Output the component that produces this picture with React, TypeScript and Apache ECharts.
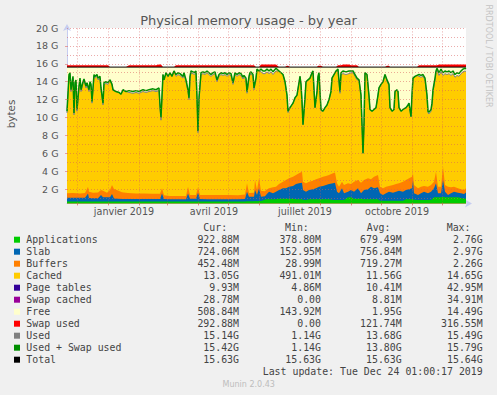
import React, { useEffect, useRef } from "react";
import * as echarts from "echarts";

// ---- time axis (days since 1 Jan 2019) ----
const X_MIN = -41;
const X_MAX = 358;
const monthStartDays = [-31, 0, 31, 59, 90, 120, 151, 181, 212, 243, 273, 304, 334];
const monthLabelDays = [16, 106, 197, 289];
const monthLabelNames = ["janvier 2019", "avril 2019", "juillet 2019", "octobre 2019"];

// ---- y axis (G) ----
const Y_MIN = 0.4;
const Y_MAX = 20;
const yLabelValues = [2, 4, 6, 8, 10, 12, 14, 16, 18, 20];
const yGridValues = [1, 2, 3, 4, 5, 6, 7, 8, 9, 10, 11, 12, 13, 14, 15, 16, 17, 18, 19, 20];

// ---- top lines: Used + Swap used, Swap used (G) ----
const lineDays = [
  -41, -39, -38, -37, -35, -34, -33, -32, -31, -29, -28, -27, -25, -24, -22, -21, -19, -18, -17, -16,
  -14, -13, -11, -10, -8, -7, -5, -4, -2, 0, 2, 4, 5, 8, 11, 13, 15, 18, 21, 25,
  28, 31, 35, 38, 41, 45, 48, 51, 52, 53, 55, 56, 58, 60, 62, 64, 66, 68, 70, 72,
  75, 76, 78, 80, 81, 82, 83, 85, 86, 88, 89, 90, 91, 93, 95, 97, 99, 101, 103, 105,
  107, 109, 111, 113, 115, 117, 119, 121, 123, 125, 127, 129, 131, 133, 135, 136, 138, 139, 141, 142,
  143, 145, 146, 148, 149, 151, 153, 155, 157, 159, 161, 163, 165, 168, 171, 173, 175, 177, 179, 180,
  182, 185, 187, 189, 191, 192, 193, 194, 195, 197, 198, 200, 202, 204, 205, 206, 207, 209, 210, 211,
  212, 213, 215, 217, 219, 221, 223, 224, 226, 228, 230, 232, 233, 235, 238, 241, 243, 245, 247, 249,
  251, 253, 254, 255, 256, 257, 259, 261, 262, 264, 266, 268, 270, 271, 273, 275, 277, 279, 281, 282,
  284, 286, 287, 289, 290, 291, 293, 295, 298, 300, 301, 303, 304, 305, 307, 309, 311, 313, 315, 317,
  319, 320, 321, 323, 324, 325, 327, 328, 329, 331, 333, 335, 337, 339, 341, 343, 345, 347, 349, 351,
  353, 355, 357, 358,
];
const usedPlusSwapG = [
  10.7, 14.8, 15.0, 13.1, 14.6, 10.5, 13.9, 14.2, 10.9, 13.5, 14.4, 13.1, 14.0, 14.3, 13.5, 13.9, 13.1, 14.0, 13.7, 11.8,
  14.8, 14.6, 14.8, 14.4, 14.6, 13.3, 11.6, 13.9, 14.0, 13.9, 14.2, 13.7, 13.1, 12.9, 12.8, 12.6, 13.1, 12.9, 13.0, 12.9,
  13.0, 12.9, 13.1, 13.0, 13.1, 13.2, 13.1, 13.3, 11.4, 10.0, 14.8, 14.2, 15.0, 14.6, 15.0, 14.6, 15.2, 14.8, 15.0, 14.9,
  14.6, 15.0, 14.2, 13.1, 12.2, 14.6, 15.2, 15.1, 15.0, 15.2, 12.2, 8.5, 12.2, 15.0, 15.1, 15.0, 15.2, 15.0, 14.8, 15.0,
  15.1, 14.2, 14.8, 15.0, 14.9, 15.0, 14.8, 15.0, 14.9, 13.9, 15.0, 14.8, 15.0, 14.9, 14.5, 14.7, 14.4, 12.9, 14.6, 15.0,
  15.1, 14.8, 13.3, 14.4, 15.4, 15.2, 15.4, 15.2, 15.2, 15.4, 15.2, 15.4, 15.1, 15.5, 15.2, 15.0, 14.8, 14.0, 12.5, 10.7,
  11.1, 11.6, 12.2, 12.5, 13.9, 14.6, 13.7, 11.8, 9.2, 12.2, 14.0, 14.2, 14.4, 15.0, 15.2, 13.1, 11.1, 12.9, 14.6, 15.0,
  12.9, 10.9, 10.7, 11.1, 11.4, 12.0, 12.9, 14.4, 14.8, 15.2, 15.4, 12.9, 15.0, 15.2, 15.1, 15.2, 15.2, 15.2, 14.8, 14.4,
  14.2, 12.5, 9.2, 6.0, 9.2, 15.0, 14.8, 12.4, 10.9, 10.7, 10.9, 11.1, 12.5, 13.3, 13.7, 14.0, 14.8, 14.2, 13.7, 11.1,
  10.7, 10.9, 12.9, 13.1, 12.9, 11.1, 10.7, 10.9, 11.1, 11.4, 11.6, 10.1, 12.5, 14.4, 14.6, 14.7, 14.8, 14.7, 14.8, 14.4,
  12.5, 10.7, 10.6, 10.9, 11.6, 13.1, 14.4, 15.2, 15.5, 15.0, 15.4, 15.0, 15.2, 15.1, 15.2, 15.0, 15.2, 14.8, 15.0, 14.9,
  15.2, 15.4, 15.5, 15.42,
];
const swapUsedG = [
  0.2, 0.2, 0.2, 0.2, 0.2, 0.2, 0.2, 0.2, 0.2, 0.2, 0.2, 0.2, 0.2, 0.2, 0.2, 0.2, 0.2, 0.2, 0.2, 0.2,
  0.2, 0.2, 0.2, 0.2, 0.2, 0.2, 0.2, 0.2, 0.2, 0.2, 0, 0, 0, 0, 0, 0, 0, 0, 0.2, 0.2,
  0.2, 0.2, 0.2, 0.2, 0.2, 0.2, 0.2, 0.3, 0.3, 0.3, 0, 0, 0, 0, 0, 0, 0, 0.2, 0.2, 0.2,
  0.2, 0.2, 0.2, 0.2, 0.2, 0.2, 0.2, 0.2, 0.2, 0.2, 0.2, 0.2, 0.2, 0.2, 0.2, 0.2, 0.2, 0.2, 0.2, 0.2,
  0.2, 0.2, 0.2, 0.2, 0.2, 0.2, 0.2, 0.2, 0.2, 0.2, 0.2, 0.2, 0.2, 0.2, 0.2, 0.2, 0.2, 0.2, 0.2, 0.2,
  0.2, 0.2, 0.2, 0, 0, 0, 0.3, 0.3, 0.3, 0.3, 0.3, 0.3, 0.3, 0.3, 0, 0, 0, 0, 0.15, 0.15,
  0, 0, 0, 0, 0, 0, 0, 0, 0, 0, 0, 0, 0, 0, 0, 0, 0, 0, 0.15, 0.15,
  0.15, 0.15, 0, 0, 0, 0, 0, 0, 0, 0, 0.2, 0.2, 0.2, 0.3, 0.3, 0.3, 0.2, 0.2, 0.2, 0.2,
  0, 0, 0, 0, 0, 0, 0, 0, 0, 0, 0, 0, 0, 0, 0, 0, 0, 0.15, 0.15, 0,
  0, 0, 0, 0, 0, 0, 0, 0, 0, 0, 0, 0, 0, 0, 0, 0, 0.2, 0.2, 0.2, 0.2,
  0.2, 0.2, 0.2, 0.2, 0.2, 0.2, 0.2, 0.2, 0.2, 0.3, 0.3, 0.3, 0.3, 0.3, 0.3, 0.3, 0.3, 0.3, 0.3, 0.3,
  0.3, 0.3, 0.3, 0.29,
];
const TOTAL_G = 15.63;

// ---- bottom bands (G) ----
const bandDays = [
  -41, -35, -28, -23, -21, -20, -19, -15, -10, -7, -5, -1, 2, 4, 6, 10, 14, 20, 28, 36,
  44, 52, 54, 56, 62, 70, 78, 80, 82, 88, 90, 92, 100, 110, 120, 130, 137, 139, 141, 146,
  147, 149, 151, 153, 157, 158, 161, 165, 168, 171, 175, 178, 181, 185, 188, 191, 194, 195, 198, 201,
  205, 208, 211, 215, 218, 221, 225, 227, 229, 231, 234, 236, 240, 243, 246, 250, 253, 256, 260, 263,
  266, 270, 272, 275, 278, 281, 285, 288, 291, 295, 298, 301, 304, 305, 306, 310, 313, 316, 320, 323,
  326, 328, 330, 333, 335, 337, 340, 343, 346, 350, 353, 356, 358,
];
const appsG = [
  0.6, 0.6, 0.61, 0.6, 0.62, 0.62, 0.6, 0.6, 0.6, 0.61, 0.6, 0.6, 0.6, 0.61, 0.6, 0.6, 0.6, 0.6, 0.6, 0.6,
  0.6, 0.6, 0.62, 0.6, 0.6, 0.6, 0.6, 0.61, 0.6, 0.6, 0.62, 0.6, 0.6, 0.6, 0.6, 0.6, 0.62, 0.65, 0.65, 0.65,
  0.66, 0.65, 0.66, 0.68, 0.8, 0.86, 0.86, 0.86, 0.86, 0.93, 0.93, 0.93, 0.93, 0.93, 0.86, 0.86, 0.86, 0.8, 0.78, 0.86,
  0.86, 0.86, 0.86, 0.86, 0.86, 0.86, 0.78, 0.78, 0.78, 0.78, 0.78, 0.78, 1.08, 1.08, 0.93, 0.93, 0.93, 0.86, 0.86, 0.86,
  0.86, 0.86, 0.71, 0.71, 0.71, 0.71, 0.71, 0.71, 0.71, 0.71, 0.86, 0.86, 0.86, 0.86, 0.8, 0.78, 0.78, 0.78, 0.78, 0.78,
  1.08, 1.08, 1.08, 1.08, 1.15, 1.08, 1.08, 1.08, 1.08, 1.08, 1.0, 0.95, 0.92,
];
const slabG = [
  0.44, 0.44, 0.41, 0.44, 0.73, 0.88, 0.4, 0.37, 0.38, 0.73, 0.48, 0.48, 0.5, 0.84, 0.35, 0.32, 0.3, 0.29, 0.29, 0.28,
  0.28, 0.28, 0.88, 0.28, 0.26, 0.26, 0.26, 0.89, 0.33, 0.33, 0.98, 0.28, 0.26, 0.26, 0.26, 0.26, 0.28, 1.06, 0.5, 0.5,
  1.24, 0.69, 1.42, 0.47, 0.4, 0.48, 0.85, 0.67, 0.85, 0.97, 1.15, 1.15, 1.34, 1.42, 1.71, 1.78, 1.86, 1.1, 0.93, 1.04,
  1.11, 1.22, 1.41, 1.49, 1.6, 1.71, 1.86, 1.94, 0.93, 0.75, 1.3, 0.75, 0.63, 0.82, 0.78, 1.15, 0.6, 1.04, 1.11, 1.41,
  1.22, 1.34, 0.82, 0.63, 0.82, 1.0, 0.89, 1.0, 1.11, 1.0, 1.04, 1.11, 1.22, 2.09, 0.73, 0.56, 0.75, 0.93, 0.75, 0.93,
  1.0, 1.56, 0.45, 0.45, 1.87, 0.63, 0.26, 0.45, 0.63, 0.52, 0.53, 0.5, 0.71,
];
const buffersG = [
  0.49, 0.51, 0.48, 0.51, 0.65, 0.77, 0.7, 0.63, 0.64, 0.56, 0.72, 0.52, 0.8, 1.01, 1.05, 0.93, 0.75, 0.66, 0.61, 0.62,
  0.6, 0.59, 0.6, 0.42, 0.37, 0.37, 0.37, 0.77, 0.42, 0.41, 0.6, 0.46, 0.48, 0.48, 0.48, 0.46, 0.5, 0.93, 0.4, 0.45,
  1.12, 0.56, 1.12, 0.65, 0.55, 0.56, 0.37, 0.67, 0.56, 0.67, 0.75, 0.94, 0.93, 1.04, 1.01, 1.12, 1.23, 0.93, 0.93, 0.93,
  0.97, 1.01, 0.93, 1.04, 1.0, 1.01, 1.12, 1.12, 0.93, 0.74, 0.75, 0.93, 0.93, 0.67, 1.12, 0.94, 1.19, 1.12, 1.23, 0.82,
  1.31, 1.38, 0.74, 0.74, 0.74, 0.64, 0.86, 0.86, 0.82, 1.12, 1.12, 1.23, 1.31, 0.81, 0.93, 0.74, 0.74, 0.64, 0.74, 0.75,
  0.75, 1.31, 0.74, 0.74, 1.48, 0.75, 0.93, 0.67, 0.56, 0.48, 0.44, 0.45, 0.45,
];

// ---- legend table ----
const legendNames = [
  "Applications", "Slab", "Buffers", "Cached", "Page tables", "Swap cached",
  "Free", "Swap used", "Used", "Used + Swap used", "Total",
];
const legendColors = [
  "#00CC00", "#0066B3", "#FF8000", "#FFCC00", "#330099", "#990099",
  "#FFFFCC", "#FF0000", "#808080", "#008F00", "#000000",
];
const curValues = ["922.88M", "724.06M", "452.48M", "13.05G", "9.93M", "28.78M", "508.84M", "292.88M", "15.14G", "15.42G", "15.63G"];
const minValues = ["378.80M", "152.95M", "28.99M", "491.01M", "4.86M", "0.00", "143.92M", "0.00", "1.14G", "1.14G", "15.63G"];
const avgValues = ["679.49M", "756.84M", "719.27M", "11.56G", "10.41M", "8.81M", "1.95G", "121.74M", "13.68G", "13.80G", "15.63G"];
const maxValues = ["2.76G", "2.97G", "2.26G", "14.65G", "42.95M", "34.91M", "14.49G", "316.55M", "15.49G", "15.79G", "15.64G"];
const columnHeaders = ["Cur:", "Min:", "Avg:", "Max:"];
const lastUpdate = "Last update: Tue Dec 24 01:00:17 2019";

const MONO = '"DejaVu Sans Mono", monospace';
const SANS = '"DejaVu Sans", sans-serif';

function buildOption() {
  const swapTop = lineDays.map((d, i) => [d, TOTAL_G + swapUsedG[i]]);
  const free = lineDays.map((d) => [d, TOTAL_G]);
  const used = lineDays.map((d, i) => [d, usedPlusSwapG[i] - swapUsedG[i]]);
  const usedSwap = lineDays.map((d, i) => [d, usedPlusSwapG[i]]);
  const bufTop = bandDays.map((d, i) => [d, appsG[i] + slabG[i] + buffersG[i]]);
  const slabTop = bandDays.map((d, i) => [d, appsG[i] + slabG[i]]);
  const apps = bandDays.map((d, i) => [d, appsG[i]]);

  const area = (name: string, data: number[][], color: string) => ({
    name,
    type: "line",
    data,
    symbol: "none",
    showSymbol: false,
    lineStyle: { opacity: 0, width: 0 },
    areaStyle: { color, opacity: 1, origin: "start" },
    silent: true,
  });

  const gridStyle = { color: "rgba(215, 90, 90, 0.5)", type: [1, 2], width: 1 };
  const markData: any[] = [
    ...yGridValues.map((v) => ({ yAxis: v })),
    ...monthStartDays.map((d) => ({ xAxis: d })),
  ];

  const graphics: any[] = [];
  const rowY0 = 239.7;
  const rowH = 12;
  const colRight = [239, 321, 401.7, 482.7];
  const headerLeft = [203.3, 285, 366.7, 446.7];
  const txt = (text: string, x: number, y: number, align: string, fill = "#444", font = `9.9px ${MONO}`, rotation = 0) => ({
    type: "text",
    x,
    y,
    rotation,
    style: { text, fill, font, align, verticalAlign: "middle", textAlign: align, textVerticalAlign: "middle" },
  });
  columnHeaders.forEach((h, j) => graphics.push(txt(h, headerLeft[j], 227.7, "left")));
  legendNames.forEach((name, i) => {
    const y = rowY0 + i * rowH;
    graphics.push({
      type: "rect",
      shape: { x: 14, y: y - 3, width: 6, height: 6 },
      style: { fill: legendColors[i] },
    });
    graphics.push(txt(name, 26.3, y, "left"));
    [curValues, minValues, avgValues, maxValues].forEach((col, j) => {
      graphics.push(txt(col[i], colRight[j], y, "right"));
    });
  });
  graphics.push(txt(lastUpdate, 482.7, 371.7, "right"));
  graphics.push(txt("Munin 2.0.43", 248.7, 384, "center", "#bdbdbd", `8px ${SANS}`));
  graphics.push(txt("RRDTOOL / TOBI OETIKER", 488.5, 56, "center", "#c4c4c4", `8px ${SANS}`, -Math.PI / 2));
  graphics.push(txt("bytes", 11, 114, "center", "#555", `10.4px ${SANS}`, Math.PI / 2));

  return {
    animation: false,
    backgroundColor: "#F0F0F0",
    title: {
      text: "Physical memory usage - by year",
      left: "center",
      top: 13,
      padding: 0,
      textStyle: { fontFamily: SANS, fontSize: 13, fontWeight: "normal", color: "#555", lineHeight: 14 },
    },
    grid: {
      left: 67,
      top: 28,
      width: 399,
      height: 175.4,
      show: true,
      backgroundColor: "#FFFFFF",
      borderWidth: 0,
    },
    xAxis: {
      type: "value",
      min: X_MIN,
      max: X_MAX,
      splitLine: { show: false },
      axisLine: {
        show: true,
        onZero: false,
        lineStyle: { color: "#c6cdf0", width: 1 },
        symbol: ["none", "arrow"],
        symbolSize: [6, 7],
        symbolOffset: [0, 6],
      },
      axisTick: {
        show: true,
        customValues: monthStartDays,
        length: 2,
        lineStyle: { color: "rgba(220, 80, 80, 0.7)" },
      },
      axisLabel: {
        customValues: monthLabelDays,
        margin: 3,
        fontFamily: SANS,
        fontSize: 9.6,
        color: "#555",
        formatter: (v: number) => {
          const i = monthLabelDays.indexOf(v);
          return i >= 0 ? monthLabelNames[i] : "";
        },
      },
    },
    yAxis: {
      type: "value",
      min: Y_MIN,
      max: Y_MAX,
      splitLine: { show: false },
      axisLine: {
        show: true,
        onZero: false,
        lineStyle: { color: "#c6cdf0", width: 1 },
        symbol: ["none", "arrow"],
        symbolSize: [6, 7],
        symbolOffset: [0, 4],
      },
      axisTick: {
        show: true,
        customValues: yLabelValues,
        length: 2,
        lineStyle: { color: "rgba(220, 80, 80, 0.5)" },
      },
      axisLabel: {
        customValues: yLabelValues,
        margin: 8.5,
        fontFamily: SANS,
        fontSize: 9.5,
        color: "#555",
        formatter: (v: number) => `${v} G`,
      },
    },
    graphic: graphics,
    series: [
      area("Swap used", swapTop, "#FF0000"),
      area("Free", free, "#FFFFCC"),
      {
        name: "Used",
        type: "line",
        data: used,
        symbol: "none",
        showSymbol: false,
        lineStyle: { color: "#808080", width: 1 },
        areaStyle: { color: "#FFCC00", opacity: 1, origin: "start" },
        silent: true,
      },
      area("Buffers", bufTop, "#FF8000"),
      area("Slab", slabTop, "#0066B3"),
      area("Applications", apps, "#00CC00"),
      {
        name: "Total",
        type: "line",
        data: free,
        symbol: "none",
        showSymbol: false,
        lineStyle: { color: "#000000", width: 1 },
        silent: true,
        markLine: {
          silent: true,
          symbol: ["none", "none"],
          label: { show: false },
          lineStyle: gridStyle,
          data: markData,
        },
      },
      {
        name: "Used + Swap used",
        type: "line",
        data: usedSwap,
        symbol: "none",
        showSymbol: false,
        lineStyle: { color: "#008F00", width: 1.5 },
        silent: true,
      },
    ],
  };
}

export default function App() {
  const ref = useRef<HTMLDivElement>(null);
  useEffect(() => {
    document.body.style.margin = "0";
    if (!ref.current) return;
    const chart = echarts.init(ref.current, null, { renderer: "svg" });
    chart.setOption(buildOption() as any);
    return () => chart.dispose();
  }, []);
  return (
    <div
      ref={ref}
      style={{ position: "absolute", left: 0, top: 0, width: 497, height: 395 }}
    />
  );
}
